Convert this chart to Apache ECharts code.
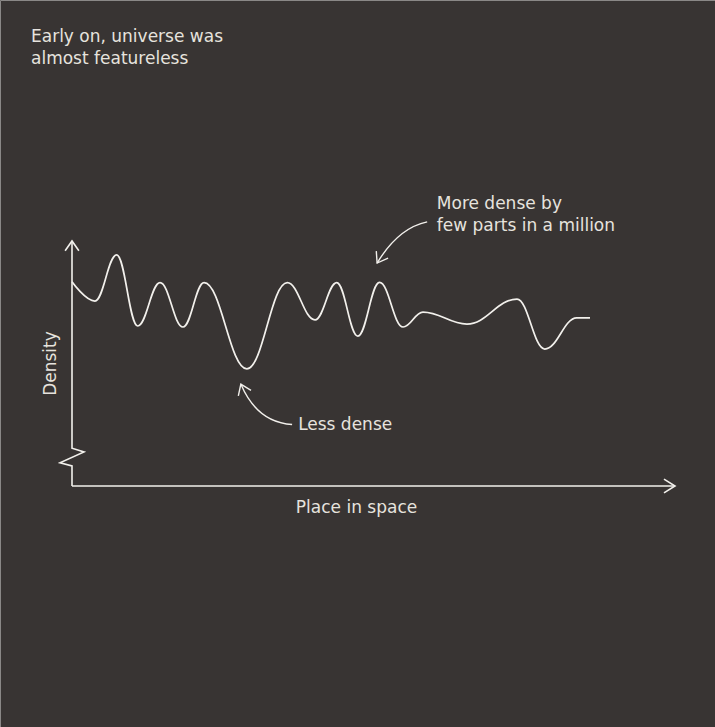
<!DOCTYPE html>
<html><head><meta charset="utf-8">
<script src="https://cdn.jsdelivr.net/npm/echarts@6/dist/echarts.min.js"></script>
<style>html,body{margin:0;padding:0;background:#383433;}#c{width:715px;height:727px;}</style>
</head><body><div id="c"></div>
<script>
// ---- data (arbitrary units 0..100) ----
const place   = [0, 3.8, 7.4, 10.9, 14.6, 18.4, 21.9, 29.0, 35.7, 40.3, 43.9, 47.4, 51.0, 54.9, 58.2, 65.5, 73.8, 78.4, 83.7, 85.9];
const density = [83.4, 75.5, 94.3, 65.3, 83.0, 64.9, 83.0, 47.8, 83.0, 67.8, 83.0, 61.2, 83.1, 64.9, 71.0, 66.1, 76.3, 55.9, 68.6, 68.6];
const titleLines = ['Early on, universe was', 'almost featureless'];
const xName = 'Place in space';
const yName = 'Density';
const noteDense = ['More dense by', 'few parts in a million'];
const noteLess = ['Less dense'];

// ---- styling / layout ----
const BG = '#383433', INK = '#f2f0ec', TXT = '#e6e3de';
const FONT = '"DejaVu Sans", sans-serif';
const chart = echarts.init(document.getElementById('c'), null, {renderer: 'svg'});

const option = {
  backgroundColor: BG,
  animation: false,
  title: {
    text: titleLines.join('\n'), left: 26, top: 20,
    textStyle: {color: TXT, fontFamily: FONT, fontSize: 17, fontWeight: 'normal', lineHeight: 22}
  },
  grid: {left: 72, right: 40, top: 241, bottom: 241},
  xAxis: {
    type: 'value', min: 0, max: 100,
    name: xName, nameLocation: 'middle', nameGap: 12,
    nameTextStyle: {color: TXT, fontFamily: FONT, fontSize: 17, padding: [0, 34, 0, 0]},
    axisLine: {show: false}, axisTick: {show: false}, axisLabel: {show: false}, splitLine: {show: false}
  },
  yAxis: {
    type: 'value', min: 0, max: 100,
    name: yName, nameLocation: 'middle', nameGap: 14,
    nameTextStyle: {color: TXT, fontFamily: FONT, fontSize: 17},
    axisLine: {show: false}, axisTick: {show: false}, axisLabel: {show: false}, splitLine: {show: false}
  },
  series: [{
    type: 'line', data: place.map((p, i) => [p, density[i]]),
    smooth: 0.4, smoothMonotone: 'x', showSymbol: false, silent: true,
    lineStyle: {color: INK, width: 1.7}
  }]
};
chart.setOption(option);

// ---- annotations & hand-drawn axes, anchored in data units ----
const P = (x, y) => chart.convertToPixel({gridIndex: 0}, [x, y]);
function head(tip, from, len, angDeg) {
  const dx = from[0] - tip[0], dy = from[1] - tip[1];
  const d = Math.hypot(dx, dy), ux = dx / d, uy = dy / d, a = angDeg * Math.PI / 180;
  const w = s => [tip[0] + len * (ux * Math.cos(s * a) - uy * Math.sin(s * a)),
                  tip[1] + len * (ux * Math.sin(s * a) + uy * Math.cos(s * a))];
  return [w(1), tip, w(-1)];
}
const stroke = (w) => ({stroke: INK, lineWidth: w, fill: null});
const g = [];
// frame edge
g.push({type: 'polyline', shape: {points: [[0.5, 727], [0.5, 0.5], [715, 0.5]]}, style: {stroke: '#8a8887', lineWidth: 1, fill: null}, silent: true});
// y axis with break
const org = P(0, 0), yTop = P(0, 100);
const b = [P(0, 15.4), P(0, 13.9), P(0, 9.5), P(0, 8.2)];
g.push({type: 'polyline', shape: {points: [yTop, b[0], [b[1][0] + 12, b[1][1]], [b[2][0] - 12, b[2][1]], b[3], org]}, style: stroke(1.6)});
g.push({type: 'polyline', shape: {points: head(yTop, [yTop[0], yTop[1] + 10], 12, 35)}, style: stroke(1.6)});
// x axis
const xEnd = P(100, 0);
g.push({type: 'polyline', shape: {points: [org, xEnd]}, style: stroke(1.6)});
g.push({type: 'polyline', shape: {points: head(xEnd, [xEnd[0] - 10, xEnd[1]], 13, 32)}, style: stroke(1.6)});
// annotation arrows
function arrow(s, c, t) {
  g.push({type: 'bezierCurve', shape: {x1: s[0], y1: s[1], cpx1: c[0], cpy1: c[1], x2: t[0], y2: t[1]}, style: stroke(1.4)});
  g.push({type: 'polyline', shape: {points: head(t, c, 12, 35)}, style: stroke(1.4)});
}
arrow(P(58.9, 107.8), P(54.1, 105.3), P(50.6, 91.0));
arrow(P(36.5, 25.1), P(30.7, 25.9), P(28.0, 41.6));
// annotation texts
function note(lines, at) {
  g.push({type: 'text', x: at[0], y: at[1], silent: true,
    style: {text: lines.join('\n'), fill: TXT, font: '17px ' + FONT, lineHeight: 22, verticalAlign: 'top'}});
}
note(noteDense, [P(60.5, 0)[0], 192]);
note(noteLess, [P(37.5, 0)[0], 413]);
chart.setOption({graphic: {elements: g}});
</script></body></html>
